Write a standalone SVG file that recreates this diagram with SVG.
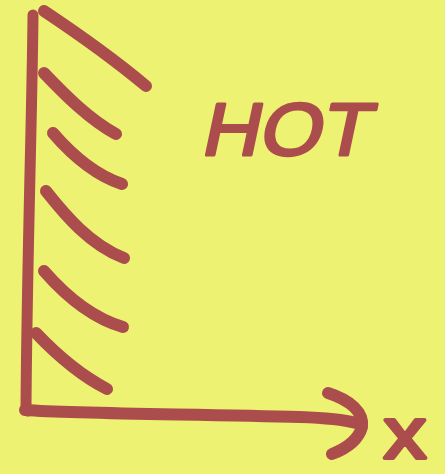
<svg xmlns="http://www.w3.org/2000/svg" width="445" height="474" viewBox="0 0 445 474">
<style>
.m{fill:none;stroke:#ab4d4d;stroke-linecap:round;stroke-linejoin:round}
.t{fill:#ab4d4d;stroke:#ab4d4d;stroke-linejoin:round;font-family:"Liberation Sans",Arial,sans-serif}
</style>
<rect width="445" height="474" fill="#eef272"/>
<g id="axes">
<path class="m" stroke-width="11" d="M33,15 C32,120 27,260 26,408 L28,411"/>
<path class="m" stroke-width="12" d="M25,410 C80,414 200,414 300,417 C330,418 345,420 356,423"/>
<path class="m" stroke-width="12" d="M328,393 C350,400 364,412 362,427 C358,441 345,449 332,454"/>
</g>
<g id="hatches">
<path class="m" stroke-width="12" d="M44,11 C80,35 115,60 146,86"/>
<path class="m" stroke-width="12" d="M44,73 C65,95 90,120 116,134"/>
<path class="m" stroke-width="12" d="M53,133 C72,155 95,175 122,184"/>
<path class="m" stroke-width="12" d="M46,191 C65,215 90,245 124,258"/>
<path class="m" stroke-width="12" d="M44,271 C65,295 92,318 123,327"/>
<path class="m" stroke-width="12" d="M36,333 C55,353 80,375 107,389"/>
</g>
<g id="hot">
<text class="t" x="0" y="0" font-size="74" stroke-width="3" textLength="168" lengthAdjust="spacingAndGlyphs" transform="translate(200,155) skewX(-12)">HOT</text>
</g>
<g id="x-label">
<text class="t" x="384" y="458" font-size="72" stroke-width="4" textLength="42" lengthAdjust="spacingAndGlyphs">x</text>
</g>
</svg>
